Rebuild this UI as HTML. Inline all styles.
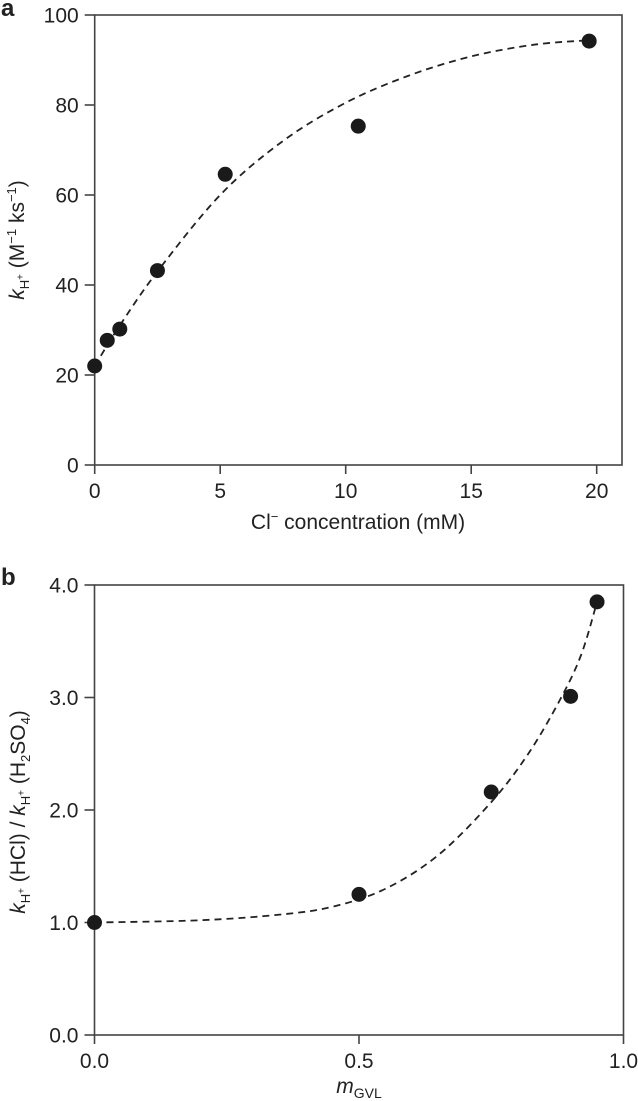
<!DOCTYPE html>
<html><head><meta charset="utf-8"><style>
html,body{margin:0;padding:0;background:#fff;}
svg{display:block;font-family:"Liberation Sans",Arial,sans-serif;}
</style></head><body>
<svg id="chart" width="638" height="1100" viewBox="0 0 638 1100"></svg>
<script>
// Panel a data
const aX = [0, 0.5, 1, 2.5, 5.2, 10.5, 19.7];
const aY = [22, 27.7, 30.2, 43.2, 64.6, 75.3, 94.2];
const aXTicks = [0, 5, 10, 15, 20];
const aYTicks = [0, 20, 40, 60, 80, 100];
// Panel b data
const bX = [0, 0.5, 0.75, 0.9, 0.95];
const bY = [1.0, 1.25, 2.16, 3.01, 3.85];
const bXTicks = [0, 0.5, 1.0];
const bXLabels = ["0.0", "0.5", "1.0"];
const bYTicks = [0, 1, 2, 3, 4];
const bYLabels = ["0.0", "1.0", "2.0", "3.0", "4.0"];
// Fit curves
const aFitX = [0, 1, 2.5, 5, 7.5, 10, 12.5, 15, 17.5, 19.7];
const aFitY = [22, 31, 43, 60, 72, 80.5, 86.5, 90.8, 93.4, 94.4];
const bFitX = [0, 0.2, 0.35, 0.45, 0.55, 0.65, 0.75, 0.82, 0.88, 0.92, 0.95];
const bFitY = [1.0, 1.02, 1.07, 1.14, 1.3, 1.6, 2.07, 2.5, 2.98, 3.38, 3.85];

const NS = "http://www.w3.org/2000/svg";
const svg = document.getElementById('chart');
function mk(tag, attrs, parent, text){
  const e = document.createElementNS(NS, tag);
  for (const k in attrs) e.setAttribute(k, attrs[k]);
  if (text !== undefined) e.textContent = text;
  (parent || svg).appendChild(e);
  return e;
}
function spline(pts){
  let d = 'M' + pts[0][0].toFixed(2) + ',' + pts[0][1].toFixed(2);
  for (let i = 0; i < pts.length - 1; i++) {
    const p0 = pts[Math.max(i - 1, 0)], p1 = pts[i], p2 = pts[i + 1], p3 = pts[Math.min(i + 2, pts.length - 1)];
    const c1 = [p1[0] + (p2[0] - p0[0]) / 6, p1[1] + (p2[1] - p0[1]) / 6];
    const c2 = [p2[0] - (p3[0] - p1[0]) / 6, p2[1] - (p3[1] - p1[1]) / 6];
    d += 'C' + c1.map(v => v.toFixed(2)).join(',') + ' ' + c2.map(v => v.toFixed(2)).join(',') + ' ' + p2.map(v => v.toFixed(2)).join(',');
  }
  return d;
}

function panel(cfg){
  const g = mk('g', {});
  
  
  const sx = v => cfg.L + (v - cfg.xmin) / (cfg.xmax - cfg.xmin) * cfg.xw;
  const sy = v => cfg.B - (v - cfg.ymin) / (cfg.ymax - cfg.ymin) * (cfg.B - cfg.T);
  const frame = mk('rect', {x: cfg.L, y: cfg.T, width: cfg.R - cfg.L, height: cfg.B - cfg.T, fill: 'none', stroke: '#444', 'stroke-width': 1.6}, g);
  
  
  cfg.xt.forEach((t, i) => {
    const x = sx(t);
    const tk = mk('line', {x1: x, x2: x, y1: cfg.B, y2: cfg.B + 9, stroke: '#444', 'stroke-width': 1.6}, g);
    
    
    const lb = mk('text', {x: x, y: cfg.B + cfg.xlOff, 'text-anchor': 'middle', 'font-size': 21, fill: '#222'}, g, cfg.xl[i]);
    
    
  });
  cfg.yt.forEach((t, i) => {
    const y = sy(t);
    const tk = mk('line', {x1: cfg.L - 10, x2: cfg.L, y1: y, y2: y, stroke: '#444', 'stroke-width': 1.6}, g);
    
    
    const lb = mk('text', {x: cfg.L - 16, y: y + 7.5, 'text-anchor': 'end', 'font-size': 21, fill: '#222'}, g, cfg.yl[i]);
    
    
  });
  const pts = cfg.fx.map((xv, i) => [sx(xv), sy(cfg.fy[i])]);
  const fit = mk('path', {d: spline(pts), fill: 'none', stroke: '#222', 'stroke-width': 1.8, 'stroke-dasharray': '7,5'}, g);
  
  
  cfg.px.forEach((xv, i) => {
    const c = mk('circle', {cx: sx(xv), cy: sy(cfg.py[i]), r: 7.5, fill: '#1a1a1a'}, g);
    
    
  });
  return g;
}

panel({name: 'panel-a', L: 94.7, R: 622, T: 15, B: 465, xmin: 0, xmax: 20, xw: 502, ymin: 0, ymax: 100,
  xt: aXTicks, xl: aXTicks.map(String), yt: aYTicks, yl: aYTicks.map(String), xlOff: 33,
  px: aX, py: aY, fx: aFitX, fy: aFitY});
panel({name: 'panel-b', L: 94.5, R: 623.5, T: 585, B: 1035, xmin: 0, xmax: 1, xw: 529, ymin: 0, ymax: 4,
  xt: bXTicks, xl: bXLabels, yt: bYTicks, yl: bYLabels, xlOff: 33,
  px: bX, py: bY, fx: bFitX, fy: bFitY});
</script>
<div style="position:absolute;left:0;top:0;width:638px;height:1100px;pointer-events:none;font-family:'Liberation Sans',Arial,sans-serif;color:#222;">
  <div style="position:absolute;left:1px;top:-5px;font-size:24px;font-weight:bold;">a</div>
  <div style="position:absolute;left:1px;top:564px;font-size:24px;font-weight:bold;">b</div>
  <div style="position:absolute;left:358px;top:522px;width:0;height:0;">
    <div style="position:absolute;transform:translate(-50%,-50%);white-space:nowrap;font-size:21px;">Cl<sup style="font-size:13px">−</sup> concentration (mM)</div>
  </div>
  <div style="position:absolute;left:359px;top:1088px;width:0;height:0;">
    <div style="position:absolute;transform:translate(-50%,-50%);white-space:nowrap;font-size:21px;"><i>m</i><sub style="font-size:14px">GVL</sub></div>
  </div>
  <div style="position:absolute;left:18px;top:240px;width:0;height:0;">
    <div style="position:absolute;transform:translate(-50%,-50%) rotate(-90deg);white-space:nowrap;font-size:21px;"><i>k</i><sub style="font-size:13px">H<sup style="font-size:10px">+</sup></sub> (M<sup style="font-size:13px">−1</sup> ks<sup style="font-size:13px">−1</sup>)</div>
  </div>
  <div style="position:absolute;left:20px;top:812px;width:0;height:0;">
    <div style="position:absolute;transform:translate(-50%,-50%) rotate(-90deg);white-space:nowrap;font-size:21px;"><i>k</i><sub style="font-size:13px">H<sup style="font-size:10px">+</sup></sub> (HCl) / <i>k</i><sub style="font-size:13px">H<sup style="font-size:10px">+</sup></sub> (H<sub style="font-size:13px">2</sub>SO<sub style="font-size:13px">4</sub>)</div>
  </div>
</div>
</body></html>
